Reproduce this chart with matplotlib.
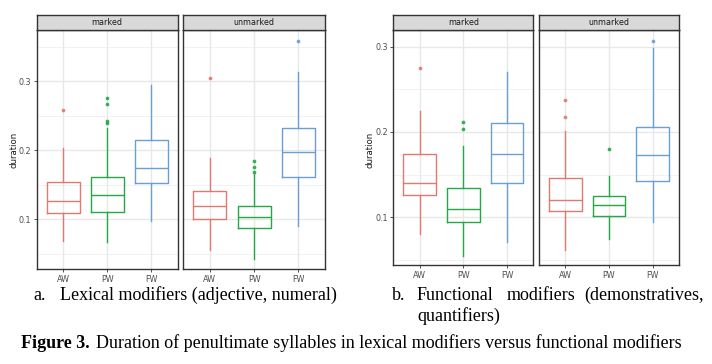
import numpy as np
import matplotlib
matplotlib.use("Agg")
import matplotlib.pyplot as plt

categories = ["AW", "PW", "FW"]
facets = ["marked", "unmarked"]
colors = ["#E07A6E", "#25A845", "#6A9FD4"]

# box stats per category: [whislo, q1, med, q3, whishi]
lex_marked = [[0.068, 0.109, 0.126, 0.154, 0.203],
              [0.067, 0.110, 0.135, 0.161, 0.232],
              [0.097, 0.152, 0.174, 0.215, 0.295]]
lex_marked_out = [[0.258], [0.240, 0.242, 0.267, 0.275], []]
lex_unmarked = [[0.055, 0.101, 0.119, 0.141, 0.189],
                [0.043, 0.088, 0.104, 0.119, 0.167],
                [0.090, 0.161, 0.197, 0.232, 0.313]]
lex_unmarked_out = [[0.305], [0.168, 0.176, 0.185], [0.358]]

fun_marked = [[0.0805, 0.126, 0.140, 0.174, 0.225],
              [0.055, 0.094, 0.110, 0.134, 0.184],
              [0.0715, 0.140, 0.174, 0.211, 0.270]]
fun_marked_out = [[0.275], [0.204, 0.212], []]
fun_unmarked = [[0.062, 0.107, 0.120, 0.146, 0.201],
                [0.074, 0.102, 0.114, 0.125, 0.148],
                [0.0945, 0.143, 0.173, 0.206, 0.298]]
fun_unmarked_out = [[0.217, 0.238], [0.180], [0.307]]

W, H = 712, 364
fig = plt.figure(figsize=(W / 100, H / 100), dpi=100)


def px_axes(x0, x1, y0, y1):
    # pixel box (top-left origin) -> figure axes
    return fig.add_axes([x0 / W, 1 - y1 / H, (x1 - x0) / W, (y1 - y0) / H])


def draw_panel(x0, x1, top, bottom, stats, outs, ylim, facet, first):
    ax = px_axes(x0, x1, top + 15, bottom)
    ax.set_facecolor("white")
    ax.set_xlim(0.4, 3.6)
    ax.set_ylim(*ylim)
    for y in [0.05, 0.15, 0.25, 0.35]:
        ax.axhline(y, color="#F0F0F0", lw=0.6, zorder=0)
    for y in [0.1, 0.2, 0.3]:
        ax.axhline(y, color="#E8E8E8", lw=1.0, zorder=0)
    for x in [1, 2, 3]:
        ax.axvline(x, color="#E8E8E8", lw=1.0, zorder=0)
    for i, s in enumerate(stats):
        c = colors[i]
        st = dict(whislo=s[0], q1=s[1], med=s[2], q3=s[3], whishi=s[4],
                  fliers=outs[i], label=categories[i])
        ax.bxp([st], positions=[i + 1], widths=0.75, showcaps=False,
               boxprops=dict(color=c, lw=1.0),
               medianprops=dict(color=c, lw=1.0),
               whiskerprops=dict(color=c, lw=1.0),
               flierprops=dict(marker="o", markersize=1.7, markerfacecolor=c,
                               markeredgecolor=c, alpha=0.85))
    ax.set_xticks([1, 2, 3])
    ax.set_xticklabels(categories)
    ax.set_yticks([0.1, 0.2, 0.3])
    ax.tick_params(axis="both", length=2.5, width=0.6, color="#333333",
                   labelsize=5.8, labelcolor="#4D4D4D", pad=1.5)
    if first:
        ax.set_yticklabels(["0.1", "0.2", "0.3"])
    else:
        ax.tick_params(axis="y", left=False, labelleft=False)
    for sp in ax.spines.values():
        sp.set_color("#333333")
        sp.set_linewidth(1.0)
    # facet strip
    sax = px_axes(x0, x1, top, top + 15)
    sax.set_xticks([])
    sax.set_yticks([])
    sax.set_facecolor("#D9D9D9")
    for sp in sax.spines.values():
        sp.set_color("#333333")
        sp.set_linewidth(1.0)
    sax.text(0.5, 0.5, facet, ha="center", va="center", fontsize=5.8,
             color="#1A1A1A", transform=sax.transAxes)
    return ax


lex_ylim = (0.028, 0.374)
fun_ylim = (0.0441, 0.3195)
draw_panel(36.7, 177.7, 15, 269, lex_marked, lex_marked_out, lex_ylim, facets[0], True)
draw_panel(183.3, 325, 15, 269, lex_unmarked, lex_unmarked_out, lex_ylim, facets[1], False)
draw_panel(393.3, 533.3, 15, 265, fun_marked, fun_marked_out, fun_ylim, facets[0], True)
draw_panel(539, 679, 15, 265, fun_unmarked, fun_unmarked_out, fun_ylim, facets[1], False)

fig.text(14 / W, 1 - 150 / H, "duration", rotation=90, ha="center", va="center",
         fontsize=6.2, color="#1A1A1A")
fig.text(370 / W, 1 - 150 / H, "duration", rotation=90, ha="center", va="center",
         fontsize=6.2, color="#1A1A1A")

serif = "Liberation Serif"
fs = 13
fig.text(33 / W, 1 - 295 / H, "a.", fontsize=fs, family=serif, va="center")
fig.text(60 / W, 1 - 295 / H, "Lexical modifiers (adjective, numeral)", fontsize=fs,
         family=serif, va="center")
fig.text(392 / W, 1 - 295 / H, "b.", fontsize=fs, family=serif, va="center")
fig.text(417 / W, 1 - 295 / H, "Functional", fontsize=fs, family=serif, va="center")
fig.text(507 / W, 1 - 295 / H, "modifiers", fontsize=fs, family=serif, va="center")
fig.text(704 / W, 1 - 295 / H, "(demonstratives,", fontsize=fs, family=serif,
         va="center", ha="right")
fig.text(417 / W, 1 - 316 / H, "quantifiers)", fontsize=fs, family=serif, va="center")
fig.text(21 / W, 1 - 343 / H, "Figure 3.", fontsize=fs, family=serif,
         weight="bold", va="center")
fig.text(96 / W, 1 - 343 / H,
         "Duration of penultimate syllables in lexical modifiers versus functional modifiers",
         fontsize=fs, family=serif, va="center")

fig.savefig("out.png", dpi=100)
